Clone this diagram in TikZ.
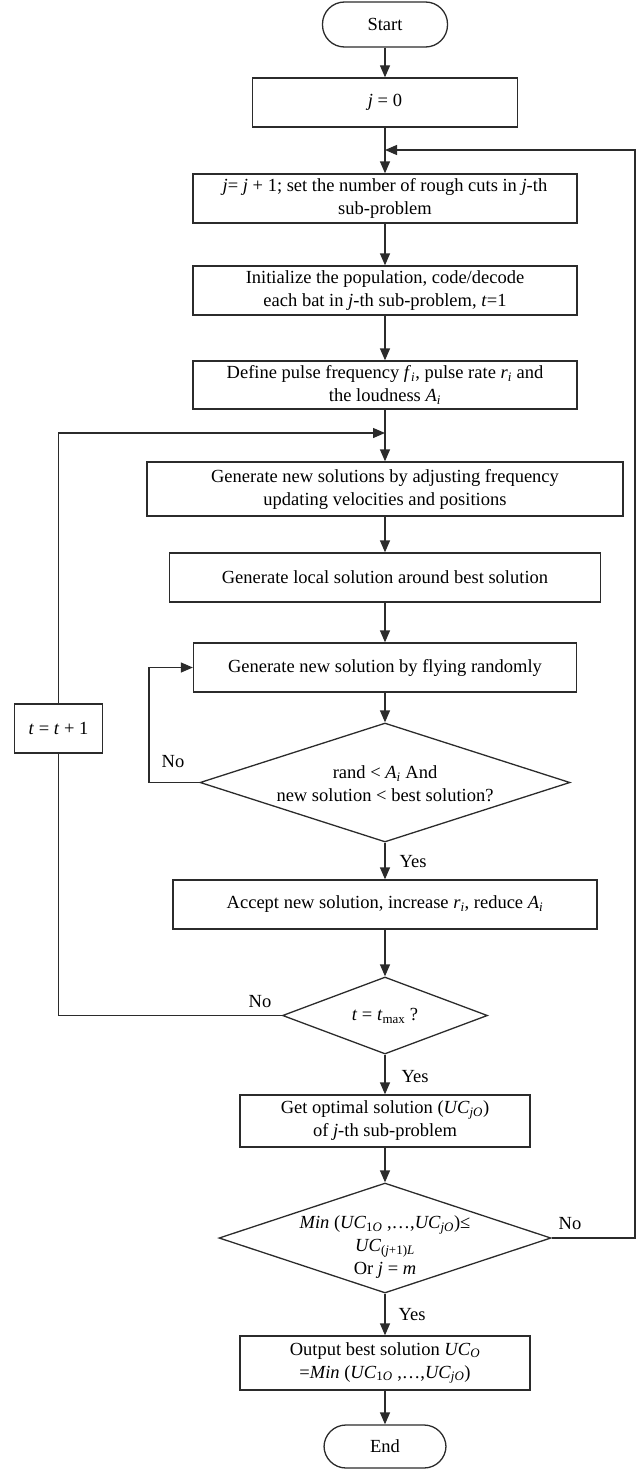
\documentclass[tikz,border=0pt]{standalone}
\usepackage{fontspec}
\setmainfont{Liberation Serif}
\usetikzlibrary{arrows.meta,shapes.geometric}
\definecolor{lc}{HTML}{2B2B2B}
\newcommand\mv[1]{\textit{#1}}
\newcommand\sbs[1]{\textsubscript{#1}}
\begin{document}
\begin{tikzpicture}[x=1pt,y=-1pt,
  font=\fontsize{18.5}{23}\selectfont,
  bx/.style={draw=lc, line width=1.3pt, rectangle, align=center, inner sep=2pt},
  term/.style={bx, rounded corners=22pt},
  dia/.style={draw=lc, line width=1.3pt, diamond, inner sep=0pt},
  txt/.style={align=center, inner sep=0pt},
  lbl/.style={inner sep=0pt},
  ln/.style={draw=lc, line width=1.3pt},
  arr/.style={ln, -{Triangle[length=12pt,width=10pt]}}]
\useasboundingbox (0,0) rectangle (640,1469);

\node[term, minimum width=125, minimum height=45] (start) at (385,24.5) {Start};
\node[bx, minimum width=265, minimum height=49] (j0) at (385,102.5) {\mv{j} = 0};
\node[bx, minimum width=384, minimum height=49] (jj) at (385,198.5)
  {\mv{j}= \mv{j} + 1; set the number of rough cuts in \mv{j}-th\\sub-problem};
\node[bx, minimum width=384, minimum height=49] (init) at (385,290.5)
  {Initialize the population, code/decode\\each bat in \mv{j}-th sub-problem, \mv{t}=1};
\node[bx, minimum width=384, minimum height=48] (def) at (385,385)
  {Define pulse frequency \mv{f}\sbs{\mv{i}}, pulse rate \mv{r}\sbs{\mv{i}} and\\the loudness \mv{A}\sbs{\mv{i}}};
\node[bx, minimum width=476, minimum height=54] (gen) at (385,489)
  {Generate new solutions by adjusting frequency\\updating velocities and positions};
\node[bx, minimum width=431, minimum height=49] (loc) at (385,577.5)
  {Generate local solution around best solution};
\node[bx, minimum width=383, minimum height=49] (fly) at (385,667.5)
  {Generate new solution by flying randomly};
\node[dia, minimum width=370, minimum height=119] (d1) at (385,782.5) {};
\node[txt] (d1t) at (385,784) {rand < \mv{A}\sbs{\mv{i}} And\\new solution < best solution?};
\node[bx, minimum width=424, minimum height=49] (acc) at (385,904.5)
  {Accept new solution, increase \mv{r}\sbs{\mv{i}}, reduce \mv{A}\sbs{\mv{i}}};
\node[dia, minimum width=205, minimum height=77] (d2) at (385,1015.5) {};
\node[txt] (d2t) at (385,1016) {\mv{t} = \mv{t}\sbs{max} ?};
\node[bx, minimum width=290, minimum height=52] (opt) at (385,1121)
  {Get optimal solution (\mv{UC}\sbs{\mv{jO}})\\of \mv{j}-th sub-problem};
\node[dia, minimum width=332, minimum height=110] (d3) at (385,1238) {};
\node[txt] (d3t) at (385,1247)
  {\mv{Min} (\mv{UC}\sbs{1\mv{O}} ,…,\mv{UC}\sbs{\mv{jO}})≤\\\mv{UC}\sbs{(\mv{j}+1)\mv{L}}\\Or \mv{j} = \mv{m}};
\node[bx, minimum width=290, minimum height=54] (out) at (385,1363)
  {Output best solution \mv{UC}\sbs{\mv{O}}\\=\mv{Min} (\mv{UC}\sbs{1\mv{O}} ,…,\mv{UC}\sbs{\mv{jO}})};
\node[term, minimum width=122, minimum height=43] (end) at (385,1446.5) {End};
\node[bx, minimum width=88, minimum height=49] (tb) at (58.5,728.5) {\mv{t} = \mv{t} + 1};

\node[lbl] (no1) at (173,762) {No};
\node[lbl] (yes1) at (413,862) {Yes};
\node[lbl] (no2) at (260,1002) {No};
\node[lbl] (yes2) at (415,1077) {Yes};
\node[lbl] (no3) at (570,1224) {No};
\node[lbl] (yes3) at (412,1315) {Yes};

\coordinate (m1) at (385,150);
\coordinate (r1) at (635,150);
\coordinate (m2) at (385,433);
\coordinate (l1) at (149,667.5);

\draw[arr] (start) -- (j0);
\draw[arr] (j0) -- (jj);
\draw[arr] (d3.east) -| (r1) -- (m1);
\draw[arr] (jj) -- (init);
\draw[arr] (init) -- (def);
\draw[arr] (def) -- (gen);
\draw[ln] (d2.west) -| (tb.south);
\draw[arr] (tb.north) |- (m2);
\draw[arr] (gen) -- (loc);
\draw[arr] (loc) -- (fly);
\draw[arr] (fly) -- (d1);
\draw[arr] (d1.west) -| (l1) -- (fly.west);
\draw[arr] (d1.south) -- (acc);
\draw[arr] (acc) -- (d2);
\draw[arr] (d2.south) -- (opt);
\draw[arr] (opt) -- (d3);
\draw[arr] (d3.south) -- (out);
\draw[arr] (out) -- (end);
\end{tikzpicture}
\end{document}
